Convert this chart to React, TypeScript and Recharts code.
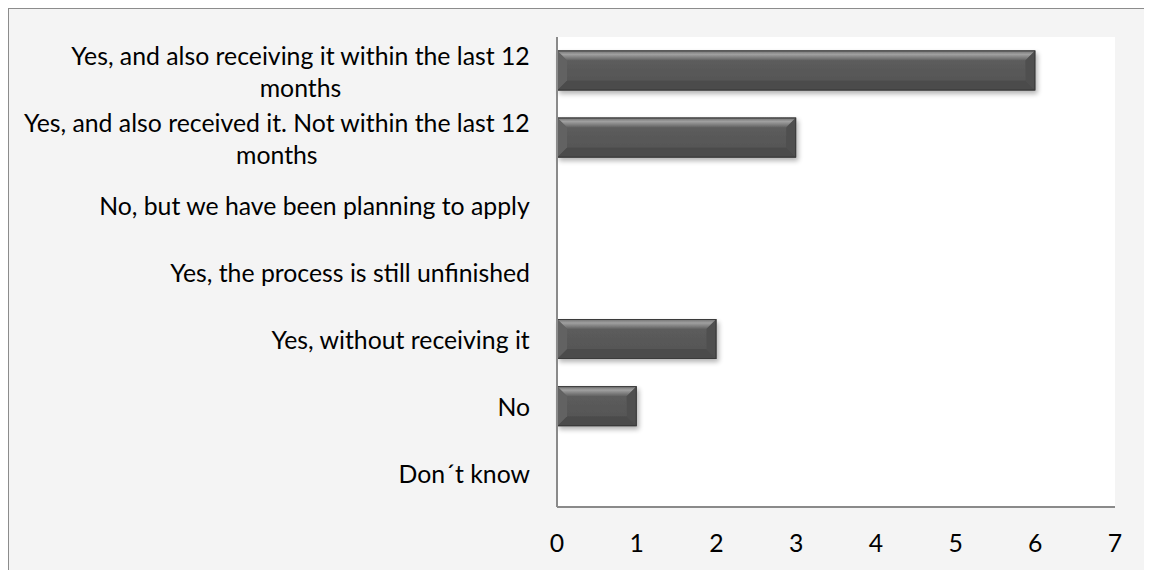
import React from "react";
import { BarChart, Bar, XAxis, YAxis, CartesianGrid } from "recharts";

const categories = [
  "Yes, and also receiving it within the last 12 months",
  "Yes, and also received it. Not within the last 12 months",
  "No, but we have been planning to apply",
  "Yes, the process is still unfinished",
  "Yes, without receiving it",
  "No",
  "Don´t know",
];
const values = [6, 3, 0, 0, 2, 1, 0];
const xTicks = [0, 1, 2, 3, 4, 5, 6, 7];

const data = categories.map((name, i) => ({ name, value: values[i] }));

const FONT_FAMILY = "Lato, 'Open Sans', sans-serif";
const FONT_SIZE = 24.8;
const LINE_H = 32;
const WRAP_W = 520;

let ctx: CanvasRenderingContext2D | null = null;
function measure(s: string): number {
  if (!ctx) {
    const c = document.createElement("canvas");
    ctx = c.getContext("2d");
  }
  if (!ctx) return s.length * FONT_SIZE * 0.5;
  ctx.font = `${FONT_SIZE}px Lato`;
  return ctx.measureText(s).width;
}

function wrap(s: string, maxW: number): string[] {
  const words = s.split(" ");
  const lines: string[] = [];
  let cur = "";
  for (const w of words) {
    const t = cur ? cur + " " + w : w;
    if (cur && measure(t) > maxW) {
      lines.push(cur);
      cur = w;
    } else cur = t;
  }
  if (cur) lines.push(cur);
  return lines;
}

const CatTick = (props: any) => {
  const { x, y, payload } = props;
  const lines = wrap(String(payload.value), WRAP_W);
  const bw = Math.max(...lines.map(measure));
  const cx = x - bw / 2;
  const startY = y - ((lines.length - 1) * LINE_H) / 2;
  return (
    <text
      x={cx}
      y={startY}
      textAnchor="middle"
      fill="#000"
      fontFamily={FONT_FAMILY}
      fontSize={FONT_SIZE}
      dominantBaseline="central"
    >
      {lines.map((l, i) => (
        <tspan key={i} x={cx} y={startY + i * LINE_H} dominantBaseline="central">
          {l}
        </tspan>
      ))}
    </text>
  );
};

const BevelBar = (props: any) => {
  const { x, y, width, height, index } = props;
  if (!width || width <= 0) return null;
  const b = Math.min(10, width / 2, height / 2);
  const id = `bb${index}`;
  const x2 = x + width;
  const y2 = y + height;
  return (
    <g>
      <defs>
        <linearGradient id={`${id}t`} x1="0" y1="0" x2="0" y2="1">
          <stop offset="0" stopColor="#6e6e6e" />
          <stop offset="0.4" stopColor="#a0a0a0" />
          <stop offset="1" stopColor="#606060" />
        </linearGradient>
        <linearGradient id={`${id}m`} x1="0" y1="0" x2="0" y2="1">
          <stop offset="0" stopColor="#5e5e5e" />
          <stop offset="1" stopColor="#545454" />
        </linearGradient>
        <filter id={`${id}s`} x="-5%" y="-30%" width="115%" height="170%">
          <feGaussianBlur in="SourceAlpha" stdDeviation="2.5" />
          <feOffset dx="2" dy="3" result="o" />
          <feComponentTransfer>
            <feFuncA type="linear" slope="0.3" />
          </feComponentTransfer>
          <feMerge>
            <feMergeNode />
            <feMergeNode in="SourceGraphic" />
          </feMerge>
        </filter>
      </defs>
      <g filter={`url(#${id}s)`}>
        <rect x={x} y={y} width={width} height={height} fill={`url(#${id}m)`} />
        <polygon
          points={`${x},${y} ${x2},${y} ${x2 - b},${y + b} ${x + b},${y + b}`}
          fill={`url(#${id}t)`}
        />
        <polygon
          points={`${x2},${y} ${x2},${y2} ${x2 - b},${y2 - b} ${x2 - b},${y + b}`}
          fill="#505050"
        />
        <polygon
          points={`${x},${y2} ${x2},${y2} ${x2 - b},${y2 - b} ${x + b},${y2 - b}`}
          fill="#4c4c4c"
        />
        <polygon
          points={`${x},${y} ${x + b},${y + b} ${x + b},${y2 - b} ${x},${y2}`}
          fill="#626262"
        />
        <rect
          x={x + 0.5}
          y={y + 0.5}
          width={width - 1}
          height={height - 1}
          fill="none"
          stroke="#3a3a3a"
          strokeWidth={1}
        />
      </g>
    </g>
  );
};

export default function App() {
  return (
    <div
      style={{
        width: 1141,
        height: 570,
        border: "1px solid #8c8c8c",
        borderBottom: "none",
        background: "#f4f4f4",
        overflow: "hidden",
      }}
    >
      <BarChart
        width={1141}
        height={561}
        data={data}
        layout="vertical"
        margin={{ top: 28, right: 35, bottom: 0, left: 0 }}
        barCategoryGap="20%"
      >
        <CartesianGrid horizontal={false} vertical={false} fill="#ffffff" stroke="none" />
        <XAxis
          type="number"
          domain={[0, 7]}
          ticks={xTicks}
          interval={0}
          height={63}
          tickLine={false}
          tickSize={0}
          tickMargin={27}
          axisLine={{ stroke: "#8a8a8a", strokeWidth: 2 }}
          tick={{ fill: "#000", fontSize: FONT_SIZE, fontFamily: FONT_FAMILY }}
        />
        <YAxis
          type="category"
          dataKey="name"
          width={548}
          interval={0}
          tickLine={false}
          tickSize={0}
          tickMargin={27}
          axisLine={{ stroke: "#8a8a8a", strokeWidth: 2 }}
          tick={<CatTick />}
        />
        <Bar dataKey="value" shape={<BevelBar />} isAnimationActive={false} />
      </BarChart>
    </div>
  );
}
